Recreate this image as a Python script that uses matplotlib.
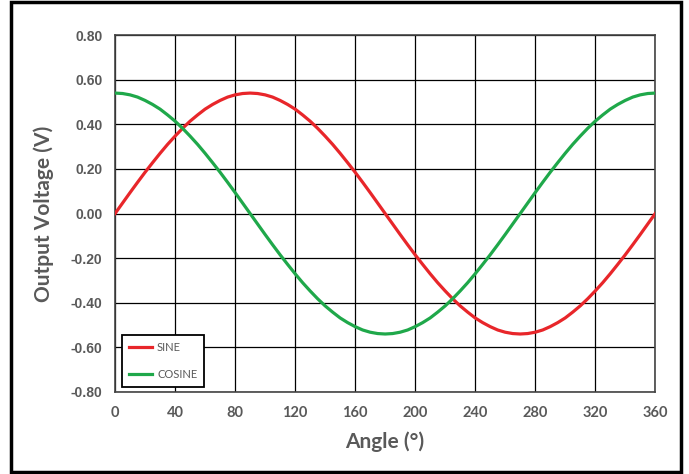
import matplotlib
matplotlib.use('Agg')
import matplotlib.pyplot as plt
from matplotlib.patches import Rectangle

# values (every 5 degrees)
angle = list(range(0, 361, 5))
sine = [0.000, 0.047, 0.094, 0.140, 0.185, 0.228, 0.270, 0.310, 0.347, 0.382, 0.414, 0.442,
        0.468, 0.489, 0.507, 0.522, 0.532, 0.538, 0.540, 0.538, 0.532, 0.522, 0.507, 0.489,
        0.468, 0.442, 0.414, 0.382, 0.347, 0.310, 0.270, 0.228, 0.185, 0.140, 0.094, 0.047,
        0.000, -0.047, -0.094, -0.140, -0.185, -0.228, -0.270, -0.310, -0.347, -0.382,
        -0.414, -0.442, -0.468, -0.489, -0.507, -0.522, -0.532, -0.538, -0.540, -0.538,
        -0.532, -0.522, -0.507, -0.489, -0.468, -0.442, -0.414, -0.382, -0.347, -0.310,
        -0.270, -0.228, -0.185, -0.140, -0.094, -0.047, 0.000]
cosine = [0.540, 0.538, 0.532, 0.522, 0.507, 0.489, 0.468, 0.442, 0.414, 0.382, 0.347, 0.310,
          0.270, 0.228, 0.185, 0.140, 0.094, 0.047, 0.000, -0.047, -0.094, -0.140, -0.185,
          -0.228, -0.270, -0.310, -0.347, -0.382, -0.414, -0.442, -0.468, -0.489, -0.507,
          -0.522, -0.532, -0.538, -0.540, -0.538, -0.532, -0.522, -0.507, -0.489, -0.468,
          -0.442, -0.414, -0.382, -0.347, -0.310, -0.270, -0.228, -0.185, -0.140, -0.094,
          -0.047, 0.000, 0.047, 0.094, 0.140, 0.185, 0.228, 0.270, 0.310, 0.347, 0.382,
          0.414, 0.442, 0.468, 0.489, 0.507, 0.522, 0.532, 0.538, 0.540]

xticks = list(range(0, 361, 40))
yticks = [-0.8, -0.6, -0.4, -0.2, 0.0, 0.2, 0.4, 0.6, 0.8]

grey = '#595959'

fig = plt.figure(figsize=(6.89, 4.74), dpi=100)
ax = fig.add_axes([0.167, 0.173, 0.784, 0.753])

ax.plot(angle, sine, color='#E8262A', lw=2.3, label='SINE', zorder=3)
ax.plot(angle, cosine, color='#1FA84A', lw=2.3, label='COSINE', zorder=3)

ax.set_xlim(0, 360)
ax.set_ylim(-0.8, 0.8)
ax.set_xticks(xticks)
ax.set_yticks(yticks)
ax.set_yticklabels(['%.2f' % v for v in yticks], family='Liberation Sans',
                   fontweight='bold', fontsize=10, color=grey)
ax.set_xticklabels([str(v) for v in xticks], family='Lato',
                   fontweight='bold', fontsize=10.5, color=grey)
ax.tick_params(length=0, pad=9)
ax.tick_params(axis='x', pad=10)
ax.grid(True, color='black', lw=0.9)
ax.set_axisbelow(True)
for s in ax.spines.values():
    s.set_color('#444444')
    s.set_linewidth(1.2)

ax.set_xlabel('Angle (°)', family='Lato', fontweight='bold', fontsize=15, color=grey, labelpad=8)
ax.set_ylabel('Output Voltage (V)', family='Lato', fontweight='bold', fontsize=15, color=grey,
              labelpad=12)

leg = ax.legend(loc='lower left', bbox_to_anchor=(0.013, 0.014), borderaxespad=0,
                fancybox=False, edgecolor='black', framealpha=1, handlelength=2.1,
                handletextpad=0.45, prop={'family': 'Lato', 'size': 8},
                labelspacing=1.5, borderpad=0.6)
leg.get_frame().set_linewidth(1.3)
for t in leg.get_texts():
    t.set_color(grey)

fig.patches.append(Rectangle((11 / 689, 2 / 474), 670 / 689, 470 / 474,
                             transform=fig.transFigure, fill=False,
                             edgecolor='black', lw=2.5))

fig.savefig('out.png', dpi=100)
